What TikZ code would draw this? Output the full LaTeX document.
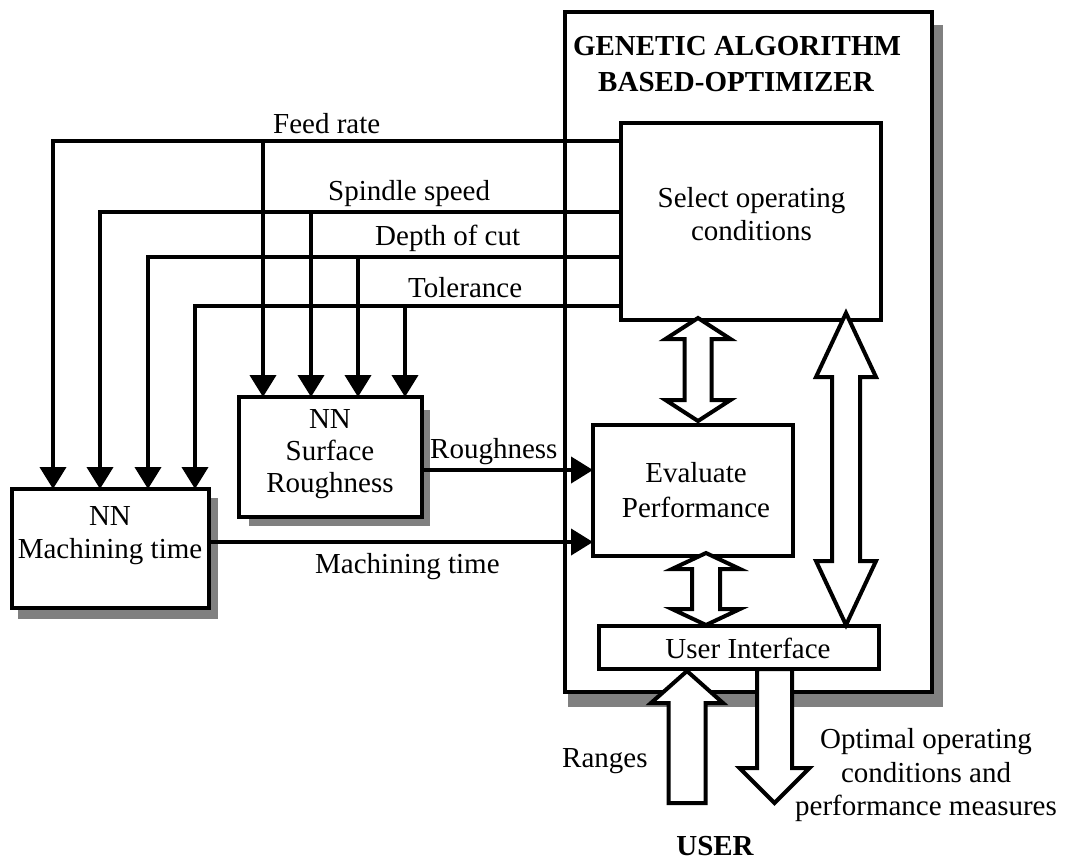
\documentclass[tikz,border=0pt]{standalone}
\usepackage{fontspec}
\setmainfont{Liberation Serif}
\usetikzlibrary{arrows.meta}
\definecolor{shadowgray}{HTML}{808080}

% vertical double block arrow: centre x, top tip y, bottom tip y, shaft half width, head half width, head length
\newcommand\vdblarrow[6]{%
  \draw[blockarrow] (#1,#2) -- ({#1+#5},{#2+#6}) -- ({#1+#4},{#2+#6}) -- ({#1+#4},{#3-#6})
    -- ({#1+#5},{#3-#6}) -- (#1,#3) -- ({#1-#5},{#3-#6}) -- ({#1-#4},{#3-#6})
    -- ({#1-#4},{#2+#6}) -- ({#1-#5},{#2+#6}) -- cycle;}
% vertical single block arrow: centre x, tip y, tail y, shaft half width, head half width, signed head length
\newcommand\vblarrow[6]{%
  \draw[blockarrow] (#1,#2) -- ({#1+#5},{#2+#6}) -- ({#1+#4},{#2+#6}) -- ({#1+#4},#3)
    -- ({#1-#4},#3) -- ({#1-#4},{#2+#6}) -- ({#1-#5},{#2+#6}) -- cycle;}

\begin{document}
\begin{tikzpicture}[x=1pt,y=-1pt,
  box/.style={draw, line width=4pt, fill=white, rectangle, inner sep=0pt, outer sep=0pt},
  shade/.style={fill=shadowgray},
  txt/.style={anchor=base, inner sep=0pt, font=\fontsize{29}{33}\selectfont},
  lefttxt/.style={txt, anchor=base west},
  boldtxt/.style={txt, font=\fontsize{29}{33}\selectfont\bfseries},
  conn/.style={line width=4pt, -{Triangle[length=22pt,width=26pt]}},
  blockarrow/.style={draw, line width=4pt, fill=white, line join=miter}
]
\useasboundingbox (0,0) rectangle (1065,863);

% optimizer frame with its shadow
\fill[shade] (568,25) rectangle (943,707);
\node[box, minimum width=367pt, minimum height=680pt] (ga) at (748.5,352) {};
\node[boldtxt] (ga1) at (737,55) {GENETIC ALGORITHM};
\node[boldtxt] (ga2) at (736,91) {BASED-OPTIMIZER};

% neural network models
\fill[shade] (249,410) rectangle (430,526);
\node[box, minimum width=183pt, minimum height=120pt] (sr) at (330.5,457) {};
\node[txt] (sr1) at (330,428) {NN};
\node[txt] (sr2) at (330,460) {Surface};
\node[txt] (sr3) at (330,492) {Roughness};

\fill[shade] (18,498) rectangle (218,619);
\node[box, minimum width=197pt, minimum height=119pt] (mt) at (110.5,548.5) {};
\node[txt] (mt1) at (110,525) {NN};
\node[txt] (mt2) at (110,558) {Machining time};

% optimizer blocks
\node[box, minimum width=260pt, minimum height=197pt] (sel) at (751,221.5) {};
\node[txt] (sel1) at (751.5,207) {Select operating};
\node[txt] (sel2) at (751.5,240) {conditions};

\node[box, minimum width=200pt, minimum height=131pt] (eval) at (693,490.5) {};
\node[txt] (ev1) at (696,482) {Evaluate};
\node[txt] (ev2) at (696,517) {Performance};

\node[box, minimum width=280pt, minimum height=43pt] (ui) at (739,647.5) {};
\node[txt] (ui1) at (748,658) {User Interface};

% operating conditions sent to both networks
\draw[conn] (sel.west |- 0,141) -| (53,0 |- mt.north);
\draw[conn] (263,141) -- (263,0 |- sr.north);
\draw[conn] (sel.west |- 0,212) -| (100,0 |- mt.north);
\draw[conn] (311,212) -- (311,0 |- sr.north);
\draw[conn] (sel.west |- 0,257) -| (148,0 |- mt.north);
\draw[conn] (358,257) -- (358,0 |- sr.north);
\draw[conn] (sel.west |- 0,306) -| (195,0 |- mt.north);
\draw[conn] (405,306) -- (405,0 |- sr.north);

\node[lefttxt] (lfeed) at (273,133) {Feed rate};
\node[lefttxt] (lspin) at (328,200) {Spindle speed};
\node[lefttxt] (ldepth) at (375,245) {Depth of cut};
\node[lefttxt] (ltol) at (408,297) {Tolerance};

% predictions returned to the evaluator
\draw[conn] (sr.east |- 0,470) -- (eval.west |- 0,470);
\draw[conn] (mt.east |- 0,542) -- (eval.west |- 0,542);
\node[lefttxt] (lrough) at (430,458) {Roughness};
\node[lefttxt] (lmach) at (315,573) {Machining time};

% block arrows inside the optimizer
\vdblarrow{698}{318}{421}{13.5}{32.5}{21}
\vdblarrow{706}{553}{625}{14}{34}{16}
\vdblarrow{846}{313}{625}{14}{30}{64}

% exchange with the user
\vblarrow{687}{671}{803}{18.5}{36}{32}
\vblarrow{774.5}{803}{669}{17.5}{35}{-35}

\node[lefttxt] (lranges) at (562,767) {Ranges};
\node[txt] (lopt1) at (926,748) {Optimal operating};
\node[txt] (lopt2) at (926,782) {conditions and};
\node[txt] (lopt3) at (926,815) {performance measures};
\node[boldtxt] (user) at (715,855) {USER};
\end{tikzpicture}
\end{document}
